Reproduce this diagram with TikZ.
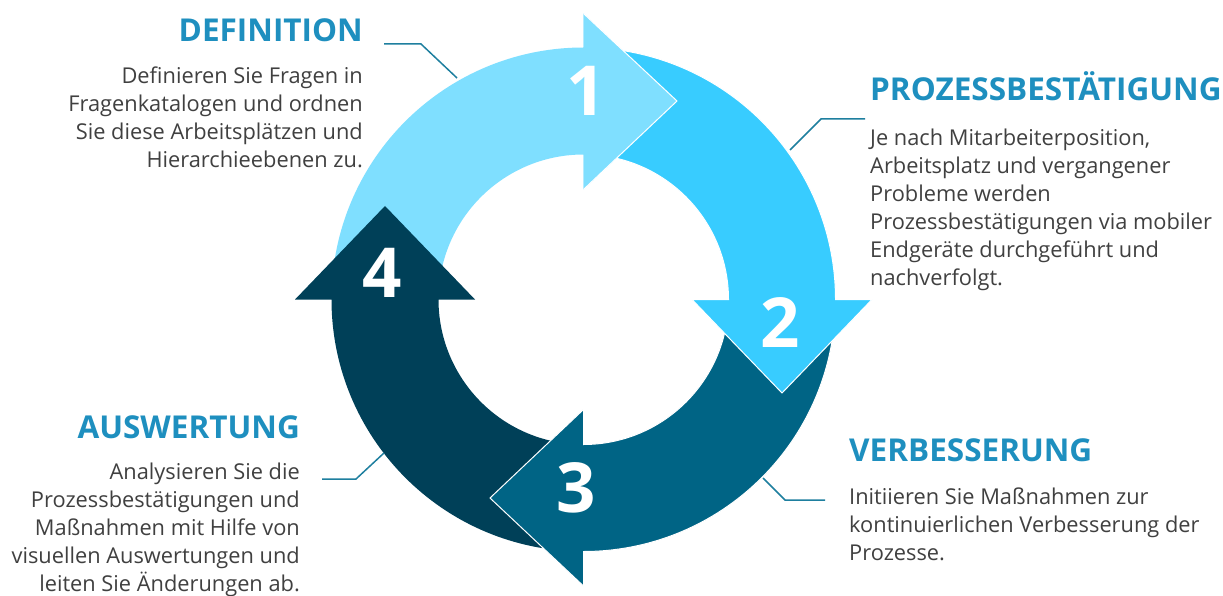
\documentclass[tikz,border=0pt]{standalone}
\usepackage{fontspec}
\setmainfont{Open Sans}
\definecolor{cone}{HTML}{7FDFFF}
\definecolor{ctwo}{HTML}{38CCFF}
\definecolor{cthree}{HTML}{006485}
\definecolor{cfour}{HTML}{004058}
\definecolor{ctitle}{HTML}{1E8FBF}
\definecolor{cbody}{HTML}{404040}
\definecolor{cleader}{HTML}{1E7F9F}
\newcommand{\ringarrow}[2]{(175:252) arc[start angle=175,end angle=90,radius=252] -- (0,#1) -- (93.5,198.5) -- (0,#2) -- (0,145) arc[start angle=90,end angle=175,radius=145] -- cycle}
\tikzset{
  numlabel/.style={text=white,font=\fontsize{69}{69}\selectfont\bfseries,inner sep=0pt,anchor=center},
  titlelabel/.style={text=ctitle,font=\fontsize{31.5}{34}\selectfont\bfseries,inner sep=0pt},
  bodylabel/.style={text=cbody,font=\fontsize{21.8}{28}\selectfont,inner sep=0pt},
  leader/.style={draw=cleader,line width=1.5pt},
  edgeline/.style={draw=white,line width=1pt}
}
\begin{document}
\begin{tikzpicture}[x=1pt,y=1pt]
\useasboundingbox (0,0) rectangle (1223,-596);
\fill[white] (0,0) rectangle (1223,-596);
\begin{scope}[shift={(583.5,-299.5)}]
  \fill[cone] \ringarrow{286}{110};
  \fill[cfour,rotate=-270] \ringarrow{288.5}{108.5};
  \filldraw[cthree,edgeline,fill=cthree,rotate=-180] \ringarrow{286.5}{110};
  \filldraw[ctwo,edgeline,fill=ctwo,rotate=-90] \ringarrow{288.5}{108.5};
  \fill[cone] (0,286) -- (93.5,198.5) -- (0,110) -- cycle;
  \draw[edgeline] (0,286) -- (93.5,198.5) -- (0,110);
\end{scope}
\node[numlabel] (n1) at (586.5,-91) {1};
\node[numlabel] (n2) at (780,-323) {2};
\node[numlabel] (n3) at (576,-488) {3};
\node[numlabel] (n4) at (382,-273) {4};

\node[titlelabel,anchor=base east] (t1) at (363,-42) {DEFINITION};
\node[titlelabel,anchor=base west] (t2) at (870,-101) {PROZESSBESTÄTIGUNG};
\node[titlelabel,anchor=base west] (t3) at (849,-461) {VERBESSERUNG};
\node[titlelabel,anchor=base east] (t4) at (300,-438) {AUSWERTUNG};

\node[bodylabel,anchor=north east,align=right] (b1) at (363,-67) {Definieren Sie Fragen in\\Fragenkatalogen und ordnen\\Sie diese Arbeitsplätzen und\\Hierarchieebenen zu.};
\node[bodylabel,anchor=north west,align=left] (b2) at (870,-129) {Je nach Mitarbeiterposition,\\Arbeitsplatz und vergangener\\Probleme werden\\Prozessbestätigungen via mobiler\\Endgeräte durchgeführt und\\nachverfolgt.};
\node[bodylabel,anchor=north west,align=left] (b3) at (849,-488) {Initiieren Sie Maßnahmen zur\\kontinuierlichen Verbesserung der\\Prozesse.};
\node[bodylabel,anchor=north east,align=right] (b4) at (300,-463) {Analysieren Sie die\\Prozessbestätigungen und\\Maßnahmen mit Hilfe von\\visuellen Auswertungen und\\leiten Sie Änderungen ab.};

\coordinate (l1a) at (384,-44); \coordinate (l1b) at (421,-44); \coordinate (l1c) at (457,-78);
\coordinate (l2a) at (865,-119); \coordinate (l2b) at (821,-119); \coordinate (l2c) at (790,-150);
\coordinate (l3a) at (825,-500); \coordinate (l3b) at (785,-500); \coordinate (l3c) at (763,-478);
\coordinate (l4a) at (322,-479); \coordinate (l4b) at (356,-479); \coordinate (l4c) at (384,-453);
\draw[leader] (l1a) -- (l1b) -- (l1c);
\draw[leader] (l2a) -- (l2b) -- (l2c);
\draw[leader] (l3a) -- (l3b) -- (l3c);
\draw[leader] (l4a) -- (l4b) -- (l4c);
\end{tikzpicture}
\end{document}
